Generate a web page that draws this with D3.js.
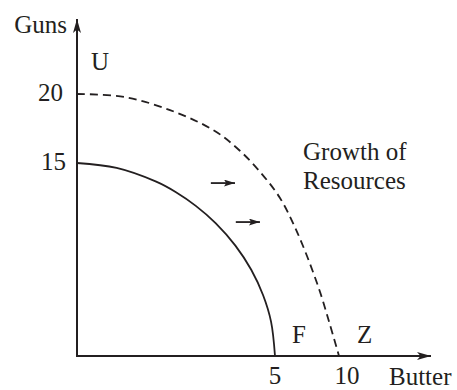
<!DOCTYPE html>
<html>
<head>
<meta charset="utf-8">
<script src="https://cdn.jsdelivr.net/npm/d3@7"></script>
<style>
  body { margin: 0; background: #fff; }
  text { font-family: "Liberation Serif", "Times New Roman", serif; fill: #231f20; }
</style>
</head>
<body>
<div id="chart"></div>
<script>
// schematic PPF: butter on x, guns on y
var xTicks = [5, 10];
var yTicks = [15, 20];

// original frontier (solid)
var ppfButter = [0, 1, 2, 2.5, 3, 3.5, 4, 4.4, 4.7, 4.9, 5];
var ppfGuns   = [15, 14.62, 13.55, 12.73, 11.67, 10.33, 8.58, 6.70, 4.72, 2.67, 0];

// after growth of resources (dashed)
var newButter = [0, 1.21, 2.47, 3.48, 4.12, 4.67, 5.39, 6.48, 7.50, 8.52, 9.30, 10];
var newGuns   = [20, 19.78, 18.70, 17.32, 15.87, 14.14, 12.28, 10.18, 7.77, 4.97, 2.41, 0];

// shift arrows [x0, x1, y]
var arrows = [[3.38, 3.99, 13.44], [4.01, 4.62, 10.41]];

var width = 457, height = 390;
var ink = "#231f20";

var svg = d3.select("#chart")
    .append("svg")
    .attr("width", width)
    .attr("height", height);

// the drawing is not to scale, so piecewise scales
var x = d3.scaleLinear().domain([0, 5, 10]).range([77, 275, 339]);
var y = d3.scaleLinear().domain([0, 15, 20]).range([356, 163, 94]);

var defs = svg.append("defs");
defs.append("marker")
    .attr("id", "head")
    .attr("viewBox", "0 0 10 10")
    .attr("refX", 10).attr("refY", 5)
    .attr("markerWidth", 14).attr("markerHeight", 8)
    .attr("markerUnits", "userSpaceOnUse")
    .attr("orient", "auto")
    .attr("preserveAspectRatio", "none")
    .append("path")
    .attr("d", "M0,0 L10,5 L0,10 L2.5,5 Z")
    .attr("fill", ink);
defs.append("marker")
    .attr("id", "small")
    .attr("viewBox", "0 0 10 10")
    .attr("refX", 10).attr("refY", 5)
    .attr("markerWidth", 11).attr("markerHeight", 7)
    .attr("markerUnits", "userSpaceOnUse")
    .attr("orient", "auto")
    .attr("preserveAspectRatio", "none")
    .append("path")
    .attr("d", "M0,0 L10,5 L0,10 L2,5 Z")
    .attr("fill", ink);

// axes
svg.append("line")
    .attr("x1", x(0)).attr("y1", y(0))
    .attr("x2", x(0)).attr("y2", 19)
    .attr("stroke", ink).attr("stroke-width", 2)
    .attr("marker-end", "url(#head)");
svg.append("line")
    .attr("x1", x(0) - 1).attr("y1", y(0))
    .attr("x2", 431).attr("y2", y(0))
    .attr("stroke", ink).attr("stroke-width", 2)
    .attr("marker-end", "url(#head)");

var line = d3.line()
    .x(function(d) { return x(d[0]); })
    .y(function(d) { return y(d[1]); })
    .curve(d3.curveCatmullRom.alpha(0.5));

svg.append("path")
    .datum(d3.zip(ppfButter, ppfGuns))
    .attr("d", line)
    .attr("fill", "none")
    .attr("stroke", ink)
    .attr("stroke-width", 1.8);

svg.append("path")
    .datum(d3.zip(newButter, newGuns))
    .attr("d", line)
    .attr("fill", "none")
    .attr("stroke", ink)
    .attr("stroke-width", 1.8)
    .attr("stroke-dasharray", "8,5");

svg.selectAll(".shift")
    .data(arrows)
    .enter()
    .append("line")
    .attr("class", "shift")
    .attr("x1", function(d) { return x(d[0]); })
    .attr("x2", function(d) { return x(d[1]); })
    .attr("y1", function(d) { return y(d[2]); })
    .attr("y2", function(d) { return y(d[2]); })
    .attr("stroke", ink)
    .attr("stroke-width", 1.8)
    .attr("marker-end", "url(#small)");

var fs = 25;

svg.selectAll(".xt")
    .data(xTicks)
    .enter()
    .append("text")
    .attr("class", "xt")
    .attr("x", function(d) { return x(d) + (d == 10 ? 8 : 0); })
    .attr("y", 384)
    .attr("text-anchor", "middle")
    .attr("font-size", fs)
    .text(function(d) { return d; });

svg.selectAll(".yt")
    .data(yTicks)
    .enter()
    .append("text")
    .attr("class", "yt")
    .attr("x", function(d) { return d == 20 ? 63 : 66; })
    .attr("y", function(d) { return y(d) + 7; })
    .attr("text-anchor", "end")
    .attr("font-size", fs)
    .text(function(d) { return d; });

var labels = [
    {t: "Guns", x: 67, y: 33, a: "end"},
    {t: "U", x: 91, y: 70, a: "start"},
    {t: "Growth of", x: 303, y: 160, a: "start"},
    {t: "Resources", x: 303, y: 189, a: "start"},
    {t: "F", x: 292, y: 343, a: "start"},
    {t: "Z", x: 357, y: 343, a: "start"},
    {t: "Butter", x: 389, y: 385, a: "start"}
];

svg.selectAll(".lab")
    .data(labels)
    .enter()
    .append("text")
    .attr("class", "lab")
    .attr("x", function(d) { return d.x; })
    .attr("y", function(d) { return d.y; })
    .attr("text-anchor", function(d) { return d.a; })
    .attr("font-size", fs)
    .text(function(d) { return d.t; });
</script>
</body>
</html>
